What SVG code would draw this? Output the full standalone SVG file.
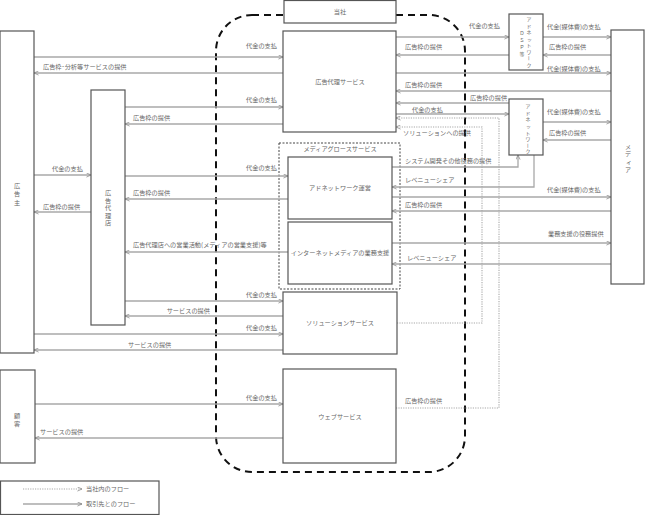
<svg xmlns="http://www.w3.org/2000/svg" width="645" height="515" viewBox="0 0 645 515">
<style>
  text { font-family: "Noto Sans CJK JP", "Noto Sans", sans-serif; fill: #666; font-size: 6.2px; }
  .n rect { fill: #fff; stroke: #555; stroke-width: 1.2; }
  .nt { text-anchor: middle; }
  .v { text-anchor: middle; }
  .vs { text-anchor: middle; font-size: 4.9px; }
  .c path { fill: none; stroke: #a8a8a8; stroke-width: 1.3; marker-end: url(#a); }
  .c path.d { stroke-dasharray: 1.2 1.2; stroke-width: 1.1; }
  .e { text-anchor: end; }
</style>
<defs>
  <marker id="a" viewBox="0 0 6 6" refX="6" refY="3" markerWidth="5" markerHeight="5" markerUnits="userSpaceOnUse" orient="auto">
    <path d="M0.5,0.5 L6,3 L0.5,5.5" fill="none" stroke="#888" stroke-width="0.9"/>
  </marker>
</defs>
<rect width="645" height="515" fill="#fff"/>

<!-- company boundary -->
<rect id="company-boundary" x="216" y="15" width="249" height="457" rx="36" ry="36" fill="none" stroke="#111" stroke-width="2" stroke-dasharray="7 5"/>

<!-- media growth dotted group -->
<g id="media-growth">
  <rect x="279" y="143" width="121" height="146" fill="none" stroke="#444" stroke-width="1" stroke-dasharray="2 1.5"/>
  <text class="nt" x="340" y="151">メディアグロースサービス</text>
</g>

<g class="c" id="connectors">
  <path d="M34,57 H283"/>
  <path d="M283,73 H34"/>
  <path d="M125,107 H283"/>
  <path d="M283,124 H125"/>
  <path d="M34,175 H91"/>
  <path d="M125,176 H288"/>
  <path d="M288,199 H125"/>
  <path d="M91,212 H34"/>
  <path d="M288,252 H125"/>
  <path d="M125,301 H283"/>
  <path d="M283,316 H125"/>
  <path d="M34,334 H283"/>
  <path d="M283,350 H34"/>
  <path d="M35,404 H283"/>
  <path d="M283,438 H35"/>
  <path d="M396,37 H509"/>
  <path d="M509,55 H396"/>
  <path d="M543,37 H611"/>
  <path d="M611,55 H543"/>
  <path d="M396,73 H611"/>
  <path d="M611,91 H396"/>
  <path d="M509,103 H396"/>
  <path d="M396,114 H509"/>
  <path class="d" d="M397,323 H482 V127 H396"/>
  <path class="d" d="M396,408 H499 V118 H396"/>
  <path d="M543,122 H611"/>
  <path d="M611,140 H543"/>
  <path d="M392,167 H518 V155"/>
  <path d="M534,155 V187 H392"/>
  <path d="M392,197 H611"/>
  <path d="M611,211 H392"/>
  <path d="M392,243 H611"/>
  <path d="M611,264 H392"/>
</g>

<g id="connector-labels">
  <text class="e" x="277" y="48">代金の支払</text>
  <text x="43" y="69">広告枠･分析等サービスの提供</text>
  <text class="e" x="277" y="102">代金の支払</text>
  <text x="133" y="120">広告枠の提供</text>
  <text x="52" y="171">代金の支払</text>
  <text class="e" x="277" y="170">代金の支払</text>
  <text x="133" y="195">広告枠の提供</text>
  <text x="43" y="209">広告枠の提供</text>
  <text x="133" y="247">広告代理店への営業活動(メディアの営業支援)等</text>
  <text class="e" x="277" y="297">代金の支払</text>
  <text class="e" x="210" y="313">サービスの提供</text>
  <text class="e" x="277" y="330">代金の支払</text>
  <text x="128" y="347">サービスの提供</text>
  <text class="e" x="277" y="400">代金の支払</text>
  <text x="40" y="434">サービスの提供</text>
  <text class="e" x="500" y="28">代金の支払</text>
  <text x="405" y="49">広告枠の提供</text>
  <text x="547" y="29">代金(媒体費)の支払</text>
  <text x="549" y="49">広告枠の提供</text>
  <text x="547" y="71">代金(媒体費)の支払</text>
  <text x="405" y="87">広告枠の提供</text>
  <text x="470" y="100">広告枠の提供</text>
  <text x="412" y="112">代金の支払</text>
  <text x="403" y="135">ソリューションへの提供</text>
  <text x="405" y="403">広告枠の提供</text>
  <text x="547" y="114">代金(媒体費)の支払</text>
  <text x="549" y="135">広告枠の提供</text>
  <text x="405" y="163">システム開発その他役務の提供</text>
  <text x="405" y="182">レベニューシェア</text>
  <text x="547" y="192">代金(媒体費)の支払</text>
  <text x="405" y="207">広告枠の提供</text>
  <text x="548" y="236">業務支援の役務提供</text>
  <text x="407" y="260">レベニューシェア</text>
</g>

<g id="advertiser" class="n">
  <rect x="0" y="31" width="34" height="322"/>
  <text class="v"><tspan x="17" y="188">広</tspan><tspan x="17" y="196">告</tspan><tspan x="17" y="205">主</tspan></text>
</g>
<g id="agency" class="n">
  <rect x="91" y="90" width="34" height="235"/>
  <text class="v"><tspan x="108" y="195">広</tspan><tspan x="108" y="202.5">告</tspan><tspan x="108" y="210">代</tspan><tspan x="108" y="217.5">理</tspan><tspan x="108" y="225">店</tspan></text>
</g>
<g id="customer" class="n">
  <rect x="0" y="370" width="35" height="93"/>
  <text class="v"><tspan x="17" y="418">顧</tspan><tspan x="17" y="426">客</tspan></text>
</g>
<g id="media" class="n">
  <rect x="611" y="30" width="33" height="254"/>
  <text class="v" style="font-size:6px"><tspan x="628" y="148.5">メ</tspan><tspan x="628" y="156.3">デ</tspan><tspan x="629" y="164.1">ィ</tspan><tspan x="628" y="171.9">ア</tspan></text>
</g>
<g id="company-header" class="n">
  <rect x="284" y="0.5" width="112" height="22.5"/>
  <text class="nt" x="340" y="14">当社</text>
</g>
<g id="ad-agency-service" class="n">
  <rect x="283" y="31" width="113" height="101"/>
  <text class="nt" x="340" y="84">広告代理サービス</text>
</g>
<g id="adnetwork-operation" class="n">
  <rect x="288" y="157" width="104" height="62"/>
  <text class="nt" x="340" y="190">アドネットワーク運営</text>
</g>
<g id="media-support" class="n">
  <rect x="288" y="222" width="104" height="62"/>
  <text class="nt" x="340" y="255">インターネットメディアの業務支援</text>
</g>
<g id="solution-service" class="n">
  <rect x="283" y="292" width="114" height="62"/>
  <text class="nt" x="340" y="325">ソリューションサービス</text>
</g>
<g id="web-service" class="n">
  <rect x="283" y="369" width="113" height="94"/>
  <text class="nt" x="340" y="419">ウェブサービス</text>
</g>
<g id="adnetwork-dsp" class="n">
  <rect x="509" y="14" width="34" height="56"/>
  <text class="vs"><tspan x="529" y="21">ア</tspan><tspan x="529" y="27.5">ド</tspan><tspan x="529" y="34">ネ</tspan><tspan x="529.5" y="40.5">ッ</tspan><tspan x="529" y="47">ト</tspan><tspan x="529" y="53.5">ワ</tspan></text>
  <text class="vs" x="529" y="58.3" dominant-baseline="central" transform="rotate(90 529 58.3)">ー</text>
  <text class="vs" x="529" y="66.5">ク</text>
  <text class="vs"><tspan x="522" y="35">Ｄ</tspan><tspan x="522" y="42">Ｓ</tspan><tspan x="522" y="49">Ｐ</tspan><tspan x="522" y="56">等</tspan></text>
</g>
<g id="adnetwork" class="n">
  <rect x="509" y="99" width="34" height="56"/>
  <text class="vs"><tspan x="528" y="108">ア</tspan><tspan x="528" y="114.5">ド</tspan><tspan x="528" y="121">ネ</tspan><tspan x="528.5" y="128">ッ</tspan><tspan x="528" y="134.5">ト</tspan><tspan x="528" y="141">ワ</tspan></text>
  <text class="vs" x="528" y="145.7" dominant-baseline="central" transform="rotate(90 528 145.7)">ー</text>
  <text class="vs" x="528" y="153">ク</text>
</g>

<g id="legend">
  <rect x="0.5" y="481" width="158.5" height="33.5" fill="#fff" stroke="#555" stroke-width="1.2"/>
  <g class="c">
    <path class="d" d="M23,489 H82"/>
    <path d="M23,504 H82"/>
  </g>
  <text x="86" y="491">当社内のフロー</text>
  <text x="86" y="506">取引先とのフロー</text>
</g>
</svg>
